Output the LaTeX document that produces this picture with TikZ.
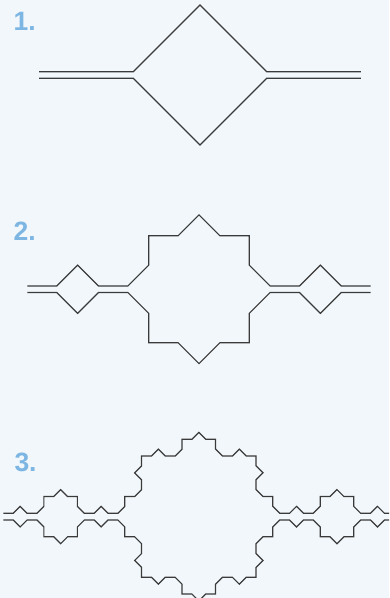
\documentclass[tikz,border=0pt]{standalone}
\usepackage{fontspec}
\setmainfont{Liberation Sans}
\usetikzlibrary{lindenmayersystems}

% Koch-type curve with a square bump: the upper curve bulges up, the lower one down
\pgfdeclarelindenmayersystem{bumpup}{\rule{F -> F+F--F+F}}
\pgfdeclarelindenmayersystem{bumpdown}{\rule{F -> F-F++F-F}}

\definecolor{paper}{HTML}{F1F7FB}
\definecolor{ink}{HTML}{3A3A3A}
\definecolor{numblue}{HTML}{7DB6E3}

\tikzset{
  curve/.style={draw=ink, line width=1.2pt, line join=miter},
  stagelabel/.style={anchor=base west, inner sep=0pt, text=numblue,
    font=\fontsize{26.5pt}{30pt}\selectfont\bfseries}
}

\begin{document}
\begin{tikzpicture}
  \useasboundingbox (0pt,0pt) rectangle (389pt,-598pt);
  \fill[paper] (0pt,0pt) rectangle (389pt,-598pt);
  \clip (0pt,0pt) rectangle (389pt,-598pt);

  % stage numbers
  \node[stagelabel] (n1) at (13.5pt,-30pt) {1.};
  \node[stagelabel] (n2) at (13.5pt,-240pt) {2.};
  \node[stagelabel] (n3) at (14.3pt,-471pt) {3.};

  % stage 1
  \begin{scope}[shift={(39pt,-71.7pt)}]
    \draw[curve, lindenmayer system={bumpup, axiom=F, order=1, step=94.3pt, angle=45}]
      (0,0) lindenmayer system;
  \end{scope}
  \begin{scope}[shift={(39pt,-78.3pt)}]
    \draw[curve, lindenmayer system={bumpdown, axiom=F, order=1, step=94.3pt, angle=45}]
      (0,0) lindenmayer system;
  \end{scope}

  % stage 2
  \begin{scope}[shift={(27.3pt,-286pt)}]
    \draw[curve, lindenmayer system={bumpup, axiom=F, order=2, step=29.46pt, angle=45}]
      (0,0) lindenmayer system;
  \end{scope}
  \begin{scope}[shift={(27.3pt,-292.5pt)}]
    \draw[curve, lindenmayer system={bumpdown, axiom=F, order=2, step=29.46pt, angle=45}]
      (0,0) lindenmayer system;
  \end{scope}

  % stage 3
  \begin{scope}[shift={(3.4pt,-513.3pt)}]
    \draw[curve, lindenmayer system={bumpup, axiom=F, order=3, step=9.82pt, angle=45}]
      (0,0) lindenmayer system;
  \end{scope}
  \begin{scope}[shift={(3.4pt,-520pt)}]
    \draw[curve, lindenmayer system={bumpdown, axiom=F, order=3, step=9.82pt, angle=45}]
      (0,0) lindenmayer system;
  \end{scope}
\end{tikzpicture}
\end{document}
